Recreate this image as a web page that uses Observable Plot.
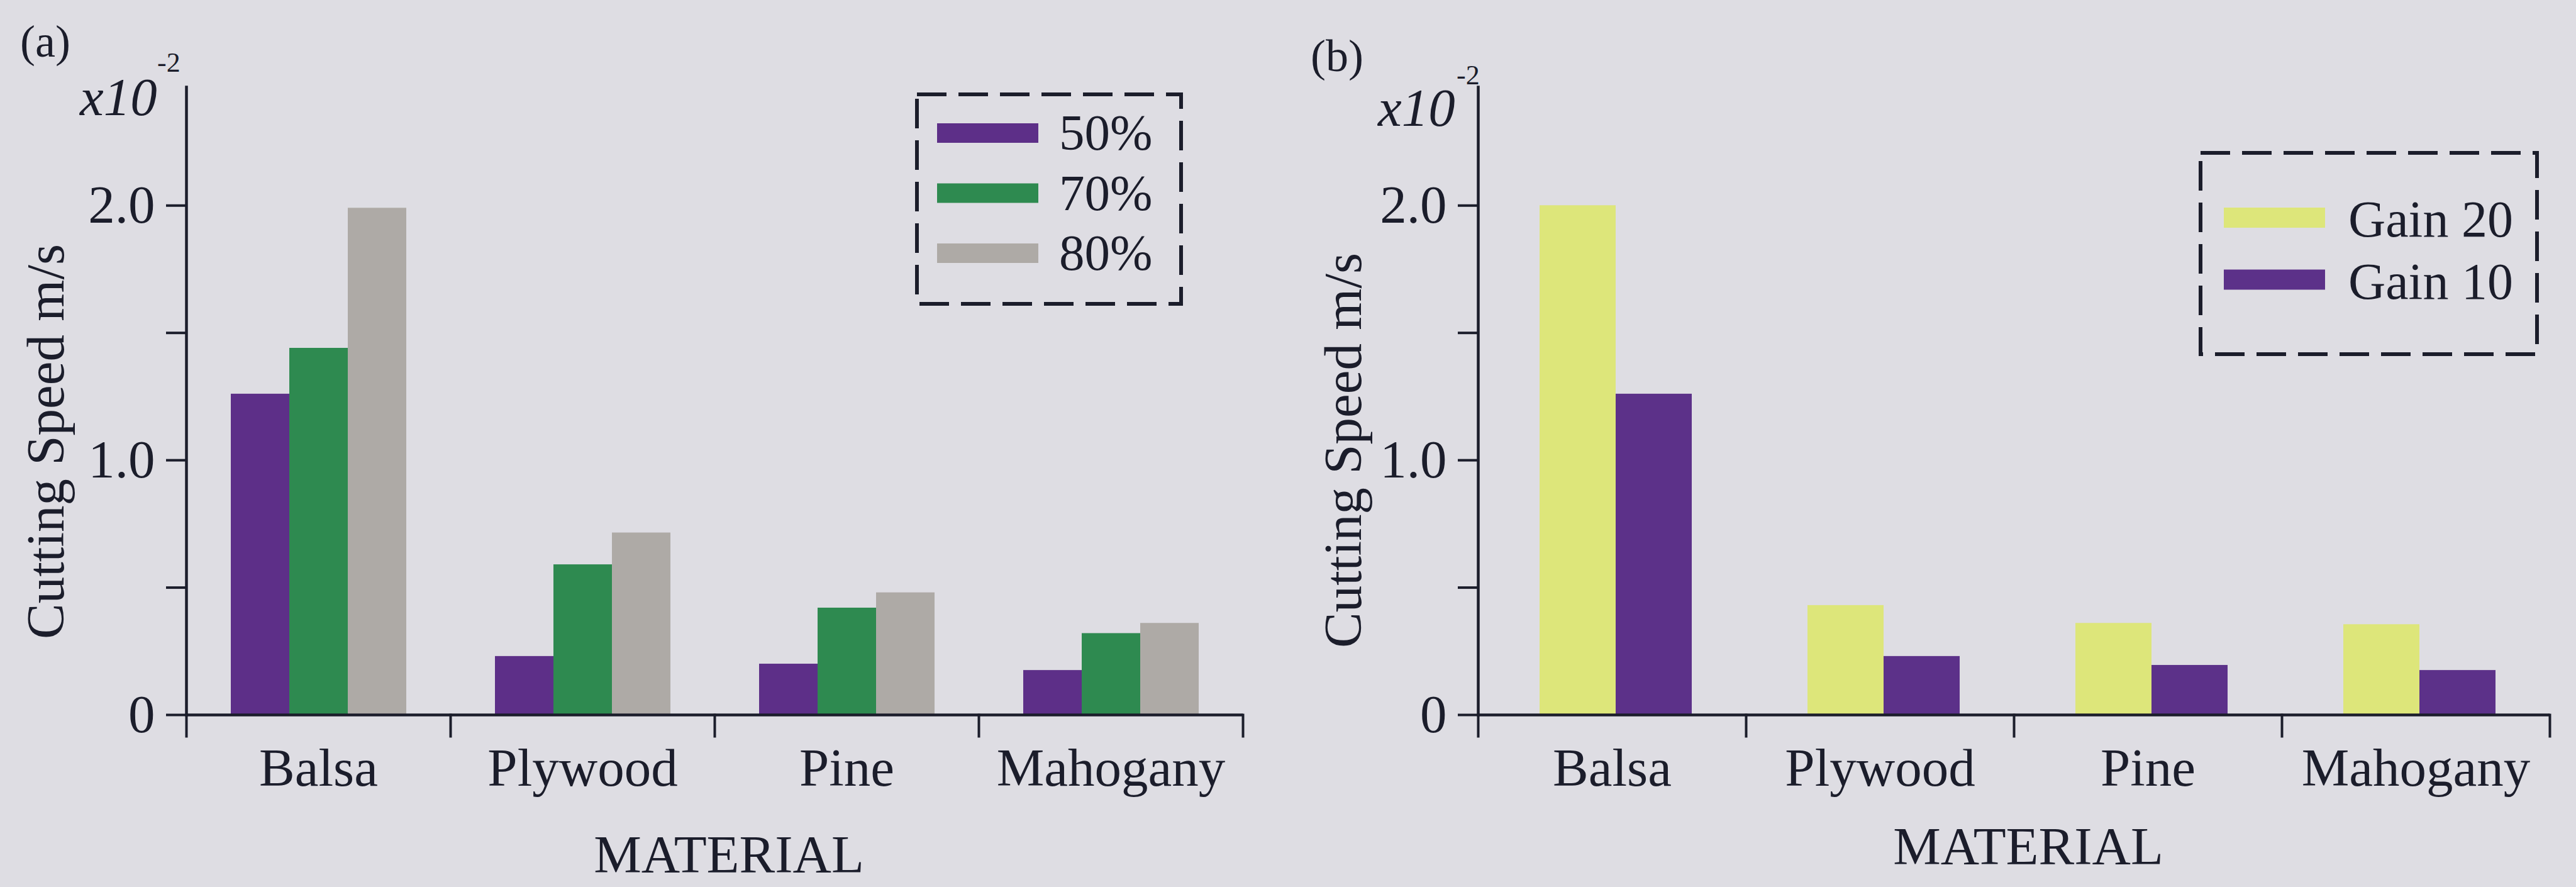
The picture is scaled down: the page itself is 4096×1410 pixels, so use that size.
<!DOCTYPE html>
<html><head><meta charset="utf-8">
<script src="https://cdn.jsdelivr.net/npm/d3@7"></script>
<script src="https://cdn.jsdelivr.net/npm/@observablehq/plot@0.6"></script>
<style>
html,body{margin:0;padding:0;background:#dedde3;}
#page{position:relative;width:4096px;height:1410px;overflow:hidden;background:#dedde3;font-family:"Liberation Serif","Times New Roman",serif;}
#page > svg{position:absolute;top:0;}
</style></head>
<body><div id="page"></div>
<script>
// ---- data ----
const materials = ["Balsa", "Plywood", "Pine", "Mahogany"];
const dutyLevels = ["50%", "70%", "80%"];
const duty50 = [1.26, 0.23, 0.20, 0.175];
const duty70 = [1.44, 0.59, 0.42, 0.32];
const duty80 = [1.99, 0.715, 0.48, 0.36];
const dutyColors = ["#5d2f88", "#2e8a50", "#aeaaa6"];
const gains = ["Gain 20", "Gain 10"];
const gain20 = [2.0, 0.43, 0.36, 0.355];
const gain10 = [1.26, 0.23, 0.195, 0.175];
const gainColors = ["#dde67a", "#5c3189"];
const yTicks = [0, 0.5, 1, 1.5, 2];
const yTickLabels = ["0", "", "1.0", "", "2.0"];
const yMax = 2.465;
const xLabel = "MATERIAL";
const yLabel = "Cutting Speed m/s";

const ink = "#1b1d2b";
const font = "'Liberation Serif', 'Times New Roman', serif";

function table(series, valueLists) {
  const rows = [];
  materials.forEach((m, i) => series.forEach((s, j) => rows.push({material: m, series: s, value: valueLists[j][i]})));
  return rows;
}
const dataA = table(dutyLevels, [duty50, duty70, duty80]);
const dataB = table(gains, [gain20, gain10]);

function panel({data, series, colors, marginLeft, marginRight, paddingOuter, align}) {
  const W = 2048, H = 1410, mt = 138, mb = 274;
  const plotH = H - mt - mb;
  return Plot.plot({
    width: W, height: H, marginLeft, marginRight, marginTop: mt, marginBottom: mb,
    style: {background: "transparent", fontFamily: font, fontSize: "85px", color: ink, overflow: "visible"},
    fx: {domain: materials, padding: 0, label: null},
    x: {domain: series, paddingInner: 0, paddingOuter, align, axis: null},
    y: {domain: [0, yMax]},
    color: {domain: series, range: colors},
    marks: [
      Plot.barY(data, {fx: "material", x: "series", y: "value", fill: "series"}),
      Plot.ruleY([0], {stroke: ink, strokeWidth: 4.5}),
      Plot.frame({anchor: "left", facetAnchor: "left", stroke: ink, strokeWidth: 4.5}),
      Plot.frame({anchor: "left", insetTop: plotH, insetBottom: -34, stroke: ink, strokeWidth: 4}),
      Plot.frame({anchor: "right", facetAnchor: "right", insetTop: plotH, insetBottom: -34, stroke: ink, strokeWidth: 4}),
      Plot.axisY({ticks: yTicks, tickFormat: d => yTickLabels[yTicks.indexOf(d)], tickSize: 32, tickPadding: 18,
                  stroke: ink, strokeWidth: 4, fontSize: 85, label: null}),
      Plot.axisFx({anchor: "bottom", tickSize: 0, tickPadding: 52, fontSize: 85, label: null})
    ]
  });
}

const page = document.getElementById("page");
const svgA = panel({data: dataA, series: dutyLevels, colors: dutyColors, marginLeft: 295, marginRight: 71, paddingOuter: 0.74, align: 0.5});
svgA.style.left = "0px";
page.appendChild(svgA);
const svgB = panel({data: dataB, series: gains, colors: gainColors, marginLeft: 301, marginRight: 42, paddingOuter: 0.75, align: 0.53});
svgB.style.left = "2048px";
page.appendChild(svgB);

// ---- annotations, titles and legends ----
const ov = d3.select(page).append("svg")
  .attr("width", 4096).attr("height", 1410).style("left", "0px")
  .style("font-family", font).attr("fill", ink);

function txt(x, y, s, size, opts = {}) {
  const t = ov.append("text").attr("x", x).attr("y", y).attr("font-size", size).text(s);
  if (opts.italic) t.attr("font-style", "italic");
  if (opts.anchor) t.attr("text-anchor", opts.anchor);
  if (opts.rotate) t.attr("transform", `rotate(-90 ${x} ${y})`);
  return t;
}

// panel (a)
txt(32, 90, "(a)", 72);
txt(127, 183, "x10", 85, {italic: true});
txt(250, 114, "-2", 44);
txt(101, 1016, yLabel, 85, {rotate: true});
txt(1159, 1387, xLabel, 85, {anchor: "middle"});
// panel (b)
txt(2084, 113, "(b)", 72);
txt(2191, 200, "x10", 85, {italic: true});
txt(2316, 134, "-2", 44);
txt(2164, 1030, yLabel, 85, {rotate: true});
txt(3225, 1374, xLabel, 85, {anchor: "middle"});

function legend(box, items, colors, sx, sy0, step, sw, sh, tx, ty0, size) {
  ov.append("rect").attr("x", box[0]).attr("y", box[1]).attr("width", box[2]).attr("height", box[3])
    .attr("fill", "none").attr("stroke", ink).attr("stroke-width", 6).attr("stroke-dasharray", "47 19");
  items.forEach((s, i) => {
    ov.append("rect").attr("x", sx).attr("y", sy0 + i * step).attr("width", sw).attr("height", sh).attr("fill", colors[i]);
    txt(tx, ty0 + i * step, s, size);
  });
}
legend([1458, 150, 420, 333], dutyLevels, dutyColors, 1490, 196, 95.5, 161, 31, 1684, 238, 81);
legend([3499, 243, 535, 320], gains, gainColors, 3536, 330, 98.5, 161, 32, 3734, 376, 82);
</script>
</body></html>
